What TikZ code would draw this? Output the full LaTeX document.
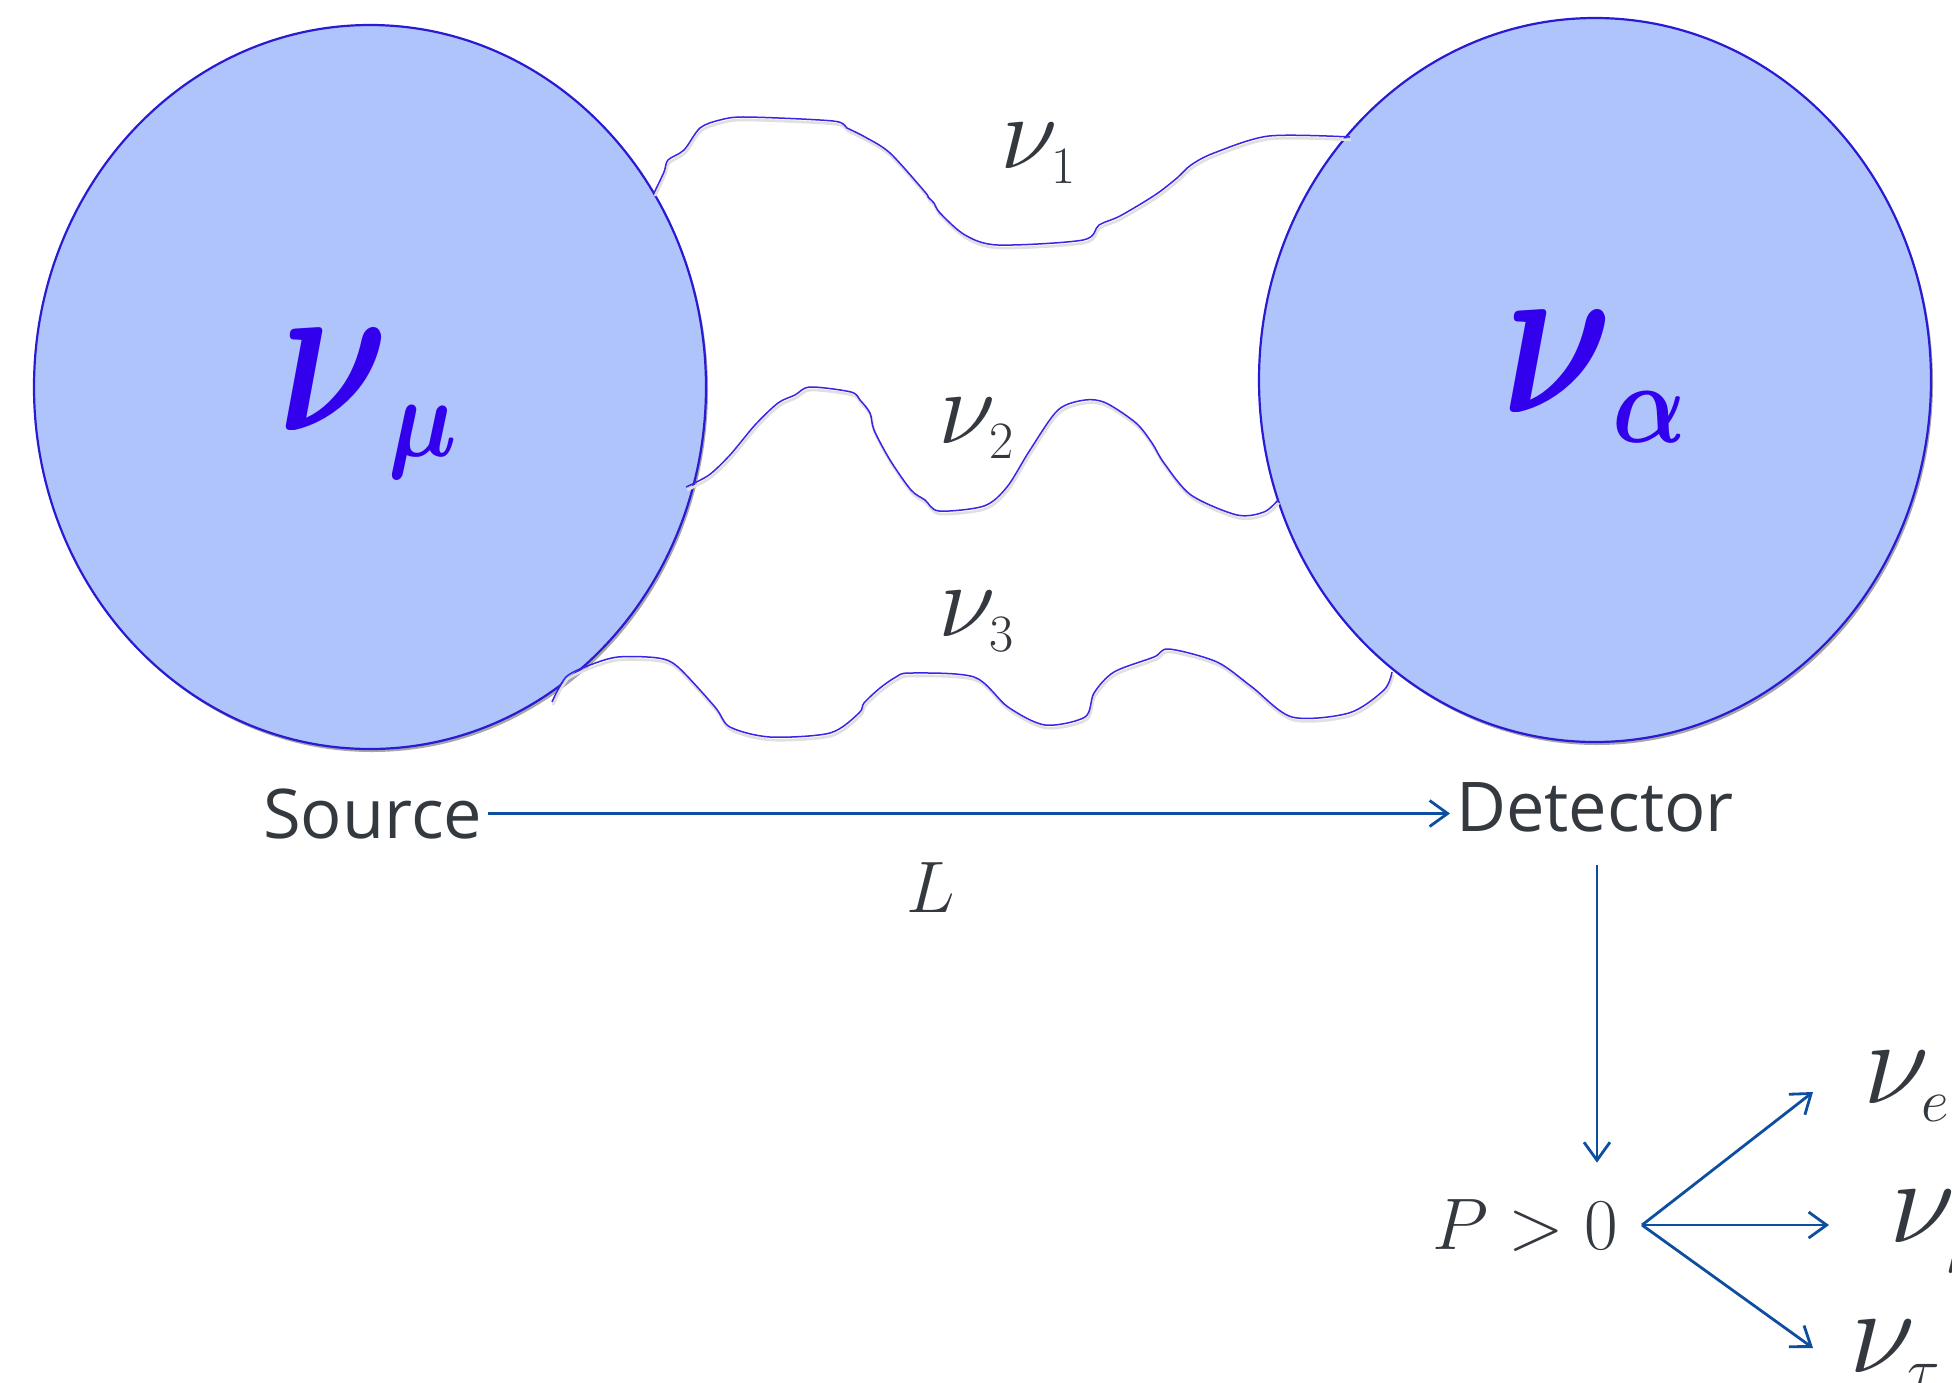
\RequirePackage{fix-cm}
\documentclass[tikz,border=0pt]{standalone}
\usepackage{amsmath}
\usepackage{graphicx}
\usepackage{fontspec}
\newfontfamily\labelfont{Open Sans}
\usetikzlibrary{shapes.geometric,arrows.meta}
\definecolor{txt}{RGB}{52,57,64}
\definecolor{arrowblue}{RGB}{14,78,160}
\definecolor{wave}{RGB}{58,36,232}
\definecolor{ballfill}{RGB}{174,196,251}
\definecolor{balledge}{RGB}{42,26,212}
\definecolor{nucol}{RGB}{51,0,238}
\newcommand{\bignuwith}[3]{\scalebox{0.75}[1]{$\boldsymbol{\nu}$}\kern#2\raisebox{#3}{\fontsize{114}{114}\selectfont\scalebox{0.85}[1]{$\boldsymbol{#1}$}}}
\begin{document}
\begin{tikzpicture}[x=1pt,y=-1pt,
 ball/.style={ellipse, draw=balledge, line width=2.2pt, fill=ballfill, minimum width=672pt, minimum height=724pt, inner sep=0pt},
 ballshadow/.style={ellipse, fill=black!35, minimum width=672pt, minimum height=724pt, inner sep=0pt},
 bignu/.style={text=nucol, inner sep=0pt, anchor=base west, font=\fontsize{228}{228}\selectfont},
 nulbl/.style={text=txt, inner sep=0pt, anchor=base west, font=\fontsize{105}{105}\selectfont},
 flav/.style={text=txt, inner sep=0pt, anchor=base west, font=\fontsize{121}{121}\selectfont},
 word/.style={text=txt, inner xsep=6pt, inner ysep=0pt, anchor=base west, font=\labelfont\fontsize{68.6}{80}\selectfont},
 mathlbl/.style={text=txt, anchor=base, inner xsep=24pt, inner ysep=3.3pt, font=\fontsize{73}{80}\selectfont},
 arr/.style={draw=arrowblue, line width=2.8pt, -{Straight Barb[length=18pt,width=26pt]}},
 wavy/.style={draw=wave, line width=1.5pt},
 waveshadow/.style={draw=black!12, line width=2.6pt},
]
\useasboundingbox (0,0) rectangle (1952,1382);
\fill[white] (0,0) rectangle (1952,1382);
\clip (0,0) rectangle (1952,1382);

% balls
\node[ballshadow] (srcsh) at (372,390) {};
\node[ballshadow] (detsh) at (1597,383) {};
\node[ball] (src) at (370,387) {};
\node[ball] (det) at (1595,380) {};

% big labels
\node[bignu] (numu) at (278,430) {\bignuwith{\mu}{0pt}{-26pt}};
\node[bignu] (nualpha) at (1502,412) {\bignuwith{\alpha}{0pt}{-30pt}};

% wavy paths
\draw[waveshadow, shift={(1,3)}] plot[smooth, tension=0.5] coordinates {(654,193) (664,172) (668,160) (684,150) (700,128) (720,120) (746,117) (833,121) (847,128) (865,137) (890,153) (925,192) (928,197) (934,203) (940,213) (965,235) (998,245) (1083,240) (1099,225) (1120,216) (1155,195) (1177,178) (1191,165) (1214,153) (1269,136) (1350,137)};
\draw[wavy] plot[smooth, tension=0.5] coordinates {(654,193) (664,172) (668,160) (684,150) (700,128) (720,120) (746,117) (833,121) (847,128) (865,137) (890,153) (925,192) (928,197) (934,203) (940,213) (965,235) (998,245) (1083,240) (1099,225) (1120,216) (1155,195) (1177,178) (1191,165) (1214,153) (1269,136) (1350,137)};

\draw[waveshadow, shift={(1,3)}] plot[smooth, tension=0.5] coordinates {(686,487) (709,475) (730,455) (755,425) (778,403) (795,395) (810,387) (851,392) (860,400) (870,413) (874,430) (890,460) (911,490) (925,500) (939,511) (984,506) (1007,487) (1030,450) (1058,410) (1085,400) (1106,403) (1136,423) (1152,443) (1164,463) (1191,495) (1237,515) (1264,512) (1278,500)};
\draw[wavy] plot[smooth, tension=0.5] coordinates {(686,487) (709,475) (730,455) (755,425) (778,403) (795,395) (810,387) (851,392) (860,400) (870,413) (874,430) (890,460) (911,490) (925,500) (939,511) (984,506) (1007,487) (1030,450) (1058,410) (1085,400) (1106,403) (1136,423) (1152,443) (1164,463) (1191,495) (1237,515) (1264,512) (1278,500)};

\draw[waveshadow, shift={(1,3)}] plot[smooth, tension=0.5] coordinates {(552,702) (566,677) (590,665) (618,657) (658,658) (678,667) (715,707) (730,727) (770,737) (830,733) (859,713) (864,703) (880,688) (896,677) (910,673) (974,677) (1008,707) (1045,725) (1085,717) (1094,693) (1114,672) (1154,657) (1169,649) (1217,662) (1252,687) (1292,717) (1349,713) (1384,690) (1392,672)};
\draw[wavy] plot[smooth, tension=0.5] coordinates {(552,702) (566,677) (590,665) (618,657) (658,658) (678,667) (715,707) (730,727) (770,737) (830,733) (859,713) (864,703) (880,688) (896,677) (910,673) (974,677) (1008,707) (1045,725) (1085,717) (1094,693) (1114,672) (1154,657) (1169,649) (1217,662) (1252,687) (1292,717) (1349,713) (1384,690) (1392,672)};

% mass state labels
\node[nulbl] (nu1) at (1000,168) {$\nu_{\scriptscriptstyle 1}$};
\node[nulbl] (nu2) at (938,443) {$\nu_{\scriptscriptstyle 2}$};
\node[nulbl] (nu3) at (938,636) {$\nu_{\scriptscriptstyle 3}$};

% source / detector
\node[word] (srclbl) at (257,838) {Source};
\node[word] (detlbl) at (1450,831) {Detector};
\draw[arr] (srclbl.east) -- (srclbl.east -| detlbl.west);
\node[mathlbl] (Llbl) at (931,912) {$L$};

% probability
\node[mathlbl] (P) at (1525,1249) {$P>0$};
\draw[arr, shorten <=33pt, shorten >=33pt] ([xshift=2pt]detlbl.south) -- ([xshift=2pt]detlbl.south |- P.north);

\node[flav] (ve) at (1863,1103) {$\nu_{\scriptscriptstyle e}$};
\node[flav] (vm) at (1889,1242) {$\nu_{\scriptscriptstyle \mu}$};
\node[flav] (vt) at (1849,1372) {$\nu_{\scriptscriptstyle \tau}$};
\coordinate (tipe) at (1813,1092);
\coordinate (tipm) at (1829,1223);
\coordinate (tipt) at (1813,1348);
\draw[arr] (P.east) -- (tipe);
\draw[arr] (P.east) -- (P.east -| tipm);
\draw[arr] (P.east) -- (tipt);
\end{tikzpicture}
\end{document}
